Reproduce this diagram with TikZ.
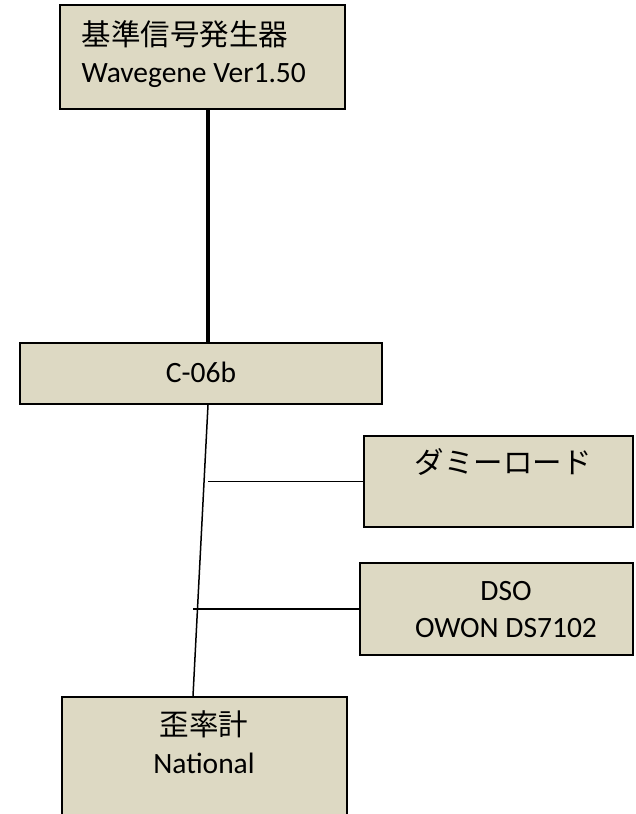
\documentclass[tikz,border=0pt]{standalone}
\usepackage{fontspec}
\setmainfont{Carlito}
\newfontfamily\jp{Noto Sans CJK JP}
\usetikzlibrary{fit}

\definecolor{boxfill}{HTML}{DDD9C3}

\tikzset{
	box/.style={draw=black, fill=boxfill, line width=0.8pt, inner sep=0pt},
	txt/.style={inner sep=0pt, font=\fontsize{11.8}{14}\selectfont},
	wire/.style={line width=0.6pt}
}

\begin{document}
\begin{tikzpicture}[x=0.4pt, y=-0.4pt]
	\useasboundingbox (0,0) rectangle (635,814);

	\node[box, fit={(60,5) (345,109)}] (gen) {};
	\node[box, fit={(20,343) (382,404)}] (ctl) {};
	\node[box, fit={(364,436) (633,527)}] (load) {};
	\node[box, fit={(360,563) (633,655)}] (dso) {};
	\node[box, fit={(62,697) (347,817)}] (thd) {};

	\node[txt, anchor=base west] at (81,45) (genjp) {\jp 基準信号発生器};
	\node[txt, anchor=base west] at (81,82) (genver) {Wavegene Ver1.50};
	\node[txt, anchor=base] at (201,382) (ctlname) {C-06b};
	\node[txt, anchor=base] at (503,473) (loadjp) {\jp ダミーロード};
	\node[txt, anchor=base] at (506,600) (dsoname) {DSO};
	\node[txt, anchor=base] at (506,637) (dsomodel) {OWON DS7102};
	\node[txt, anchor=base] at (204,735) (thdjp) {\jp 歪率計};
	\node[txt, anchor=base] at (204,773) (thdmaker) {National};

	\coordinate (bus) at (208,0);
	\coordinate (busb) at (193,0);

	\draw[line width=1.6pt] (gen.south -| bus) -- (ctl.north -| bus);
	\draw[wire] (ctl.south -| bus) -- (thd.north -| busb);
	\draw[wire] (load.west -| bus) -- (load.west);
	\draw[wire] (dso.west -| busb) -- (dso.west);
\end{tikzpicture}
\end{document}
